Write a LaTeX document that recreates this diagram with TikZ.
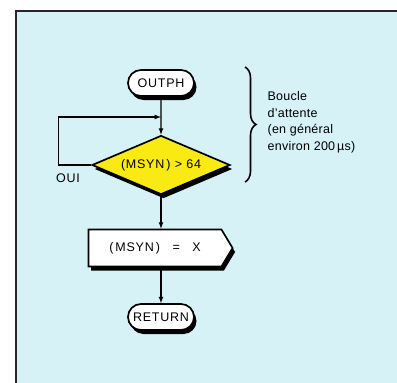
\documentclass[tikz,border=0pt]{standalone}
\usepackage{fontspec}
\setmainfont{Liberation Sans}
\usetikzlibrary{arrows.meta,calc,positioning,shapes.geometric,shapes.misc,shapes.symbols,shadows,decorations.pathreplacing}
\definecolor{panelcyan}{RGB}{214,242,246}
\definecolor{testyellow}{RGB}{250,234,20}

\begin{document}
\begin{tikzpicture}[x=1pt, y=-1pt, line width=1.2pt,
  every node/.style={font=\fontsize{12.5}{16.5}\selectfont\addfontfeature{LetterSpace=2}},
  chartfont/.style={font=\fontsize{12.5}{14}\selectfont\addfontfeature{LetterSpace=6}},
  blackshadow/.style={drop shadow={shadow xshift=2.5pt, shadow yshift=-4pt, fill=black, opacity=1}},
  term/.style={rounded rectangle, draw, fill=white, line width=1.7pt, minimum width=70pt, minimum height=26pt, inner sep=2pt, chartfont, blackshadow},
  test/.style={diamond, draw, fill=testyellow, line width=1.7pt, aspect=2.3, minimum width=138pt, minimum height=59pt, inner sep=0pt, chartfont, blackshadow},
  action/.style={signal, signal to=east, signal pointer angle=118, draw, fill=white, line width=1.7pt, minimum width=144pt, minimum height=37pt, inner sep=2pt, chartfont, blackshadow}]
\useasboundingbox (0,0) rectangle (397,383);
\clip (0,0) rectangle (397,383);
%--- panel ---
\fill[white] (0,0) rectangle (397,383);
\filldraw[fill=panelcyan, draw=black!85, line width=2pt] (16,11) rectangle (420,410);
%--- flowchart ---
\node[term] (outph) at (161,83) {OUTPH};
\node[test] (msyn) at (161,165) {(MSYN\,)\ >\ 64};
\node[action] (setx) at (155,248) {(\,MSYN\,)\quad=\quad X};
\node[term] (ret) at (161,317) {RETURN};
% arrows
\coordinate (join) at (161,117);
\draw[-latex] (outph) -- (msyn);
\draw[-latex] (msyn.west) -- ++(-33,0) |- (join);
\node[chartfont] (oui) at (68,178) {OUI};
\draw[-latex] (msyn.south) -- (msyn.south |- setx.north);
\draw[-latex] (ret.north |- setx.south) -- (ret.north);
%--- waiting loop note ---
\coordinate (bracetop) at (245,67);
\coordinate (bracebot) at (245,182);
\draw[decorate, decoration={brace, amplitude=11pt}, line width=1.6pt] (bracetop) -- (bracebot);
\node[anchor=north west, align=left, inner sep=0pt] (note) at (267,91) {Boucle\\d’attente\\(en général\\environ 200\,µs)};
\end{tikzpicture}
\end{document}
